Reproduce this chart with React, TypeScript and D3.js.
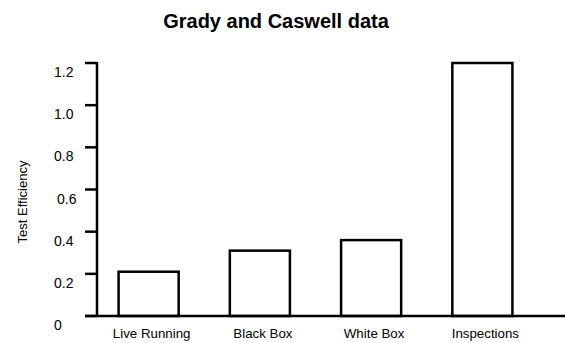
import React from "react";
import * as d3 from "d3";

const categories = ["Live Running", "Black Box", "White Box", "Inspections"];
const values = [0.21, 0.31, 0.36, 1.2];
const yTicks = [0, 0.2, 0.4, 0.6, 0.8, 1.0, 1.2];
const yTickLabels = ["0", "0.2", "0.4", "0.6", "0.8", "1.0", "1.2"];

export default function App() {
  const W = 565, H = 343;
  const x = d3.scaleBand<string>().domain(categories).range([93, 538]).paddingInner(0.46).paddingOuter(0.23);
  const y = d3.scaleLinear().domain([0, 1.2]).range([316, 63]);
  const font = "'Liberation Sans', Arial, sans-serif";
  return (
    <svg width={W} height={H} style={{ position: "absolute", left: 0, top: 0, background: "#fff" }}>
      <text x={276} y={28} textAnchor="middle" fontFamily={font} fontWeight="bold" fontSize={20}>Grady and Caswell data</text>
      <text transform={`translate(27,202) rotate(-90)`} textAnchor="middle" fontFamily={font} fontSize={13}>Test Efficiency</text>
      {yTicks.map((t, i) => (
        <g key={i}>
          <line x1={85} x2={97} y1={y(t)} y2={y(t)} stroke="#000" strokeWidth={2.5} />
          <text x={i === 3 ? 57 : 54} y={y(t) + 14} fontFamily={font} fontSize={14}>{yTickLabels[i]}</text>
        </g>
      ))}
      {categories.map((c, i) => (
        <g key={c}>
          <rect x={x(c)!} y={y(values[i])} width={x.bandwidth()} height={y(0) - y(values[i])} fill="#fff" stroke="#000" strokeWidth={2.5} />
          <text x={x(c)! + x.bandwidth() / 2 + 3} y={338} textAnchor="middle" fontFamily={font} fontSize={13.3}>{c}</text>
        </g>
      ))}
      <line x1={97} x2={97} y1={62} y2={317} stroke="#000" strokeWidth={2.5} />
      <line x1={85} x2={565} y1={316} y2={316} stroke="#000" strokeWidth={2.5} />
    </svg>
  );
}
